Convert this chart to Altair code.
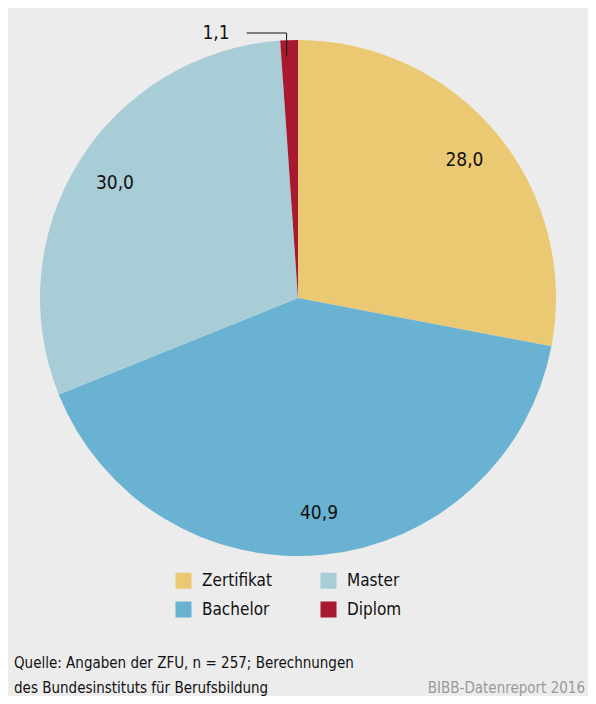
import altair as alt
import pandas as pd
import math

categories = ["Zertifikat", "Bachelor", "Master", "Diplom"]
values = [28.0, 40.9, 30.0, 1.1]
labels = ["28,0", "40,9", "30,0", "1,1"]
colors = ["#ebc973", "#6ab2d1", "#a8cdd6", "#a6192e"]

FONT = "DejaVu Sans Condensed, Liberation Sans Narrow, Roboto"
W, H = 580, 688
CX, CY = 290, 290
R = 258

df = pd.DataFrame({"cat": categories, "val": values, "label": labels,
                   "ord": list(range(len(categories)))})

color = alt.Color("cat:N", scale=alt.Scale(domain=categories, range=colors),
                  legend=alt.Legend(title=None, orient="none", legendX=167, legendY=564,
                                    columns=2, symbolType="square", symbolSize=256,
                                    symbolStrokeWidth=0, symbolOpacity=1,
                                    labelFont=FONT, labelFontSize=17, labelColor="#111",
                                    labelOffset=10, rowPadding=11, columnPadding=48,
                                    gridAlign="all"))

pie = alt.Chart(df).mark_arc(radius=R, stroke=None).encode(
    theta=alt.Theta("val:Q", stack=True),
    order=alt.Order("ord:Q"),
    color=color,
    x=alt.value(CX), y=alt.value(CY),
)

txt = alt.Chart(df).transform_calculate(
    show="datum.cat == 'Diplom' ? '' : datum.label"
).mark_text(radius=216, font=FONT, fontSize=19, color="#111").encode(
    theta=alt.Theta("val:Q", stack=True),
    order=alt.Order("ord:Q"),
    text="show:N",
    x=alt.value(CX), y=alt.value(CY),
)

# leader for the small slice, derived from its share
total = sum(values)
cum = sum(values[:3])
mid = (cum + values[3] / 2) / total * 2 * math.pi
x0 = R * 0.94 * math.sin(mid) - 3
lead = pd.DataFrame({
    "lx": [x0, x0, x0 - 40],
    "ly": [R * 0.94 * math.cos(mid), R + 7, R + 7],
    "i": [0, 1, 2],
})
xs = alt.Scale(domain=[-CX, W - CX], range=[0, W])
ys = alt.Scale(domain=[-(H - CY), CY], range=[H, 0])
leader = alt.Chart(lead).mark_line(color="#111", strokeWidth=1).encode(
    x=alt.X("lx:Q", scale=xs, axis=None),
    y=alt.Y("ly:Q", scale=ys, axis=None),
    order="i:Q",
)
small_lbl = alt.Chart(pd.DataFrame({"lx": [x0 - 40], "ly": [R + 7],
                                    "t": [labels[3]]})).mark_text(
    font=FONT, fontSize=19, color="#111", align="right", dx=-17
).encode(
    x=alt.X("lx:Q", scale=xs, axis=None),
    y=alt.Y("ly:Q", scale=ys, axis=None),
    text="t:N",
)

footer = alt.Chart(pd.DataFrame({"t": ["Quelle: Angaben der ZFU, n = 257; Berechnungen"]})).mark_text(
    font=FONT, fontSize=15, color="#111", align="left", baseline="middle"
).encode(text="t:N", x=alt.value(6), y=alt.value(655))
footer2 = alt.Chart(pd.DataFrame({"t": ["des Bundesinstituts für Berufsbildung"]})).mark_text(
    font=FONT, fontSize=15, color="#111", align="left", baseline="middle"
).encode(text="t:N", x=alt.value(6), y=alt.value(680))
credit = alt.Chart(pd.DataFrame({"t": ["BIBB-Datenreport 2016"]})).mark_text(
    font=FONT, fontSize=15, color="#999", align="right", baseline="middle"
).encode(text="t:N", x=alt.value(577), y=alt.value(680))

chart = alt.layer(pie, txt, leader, small_lbl, footer, footer2, credit).properties(
    width=W, height=H, background="#ececec", padding=0,
    autosize=alt.AutoSizeParams(type="none")
).configure_view(stroke=None)

chart.save("out.html", embed_options={"renderer": "svg", "actions": False})
